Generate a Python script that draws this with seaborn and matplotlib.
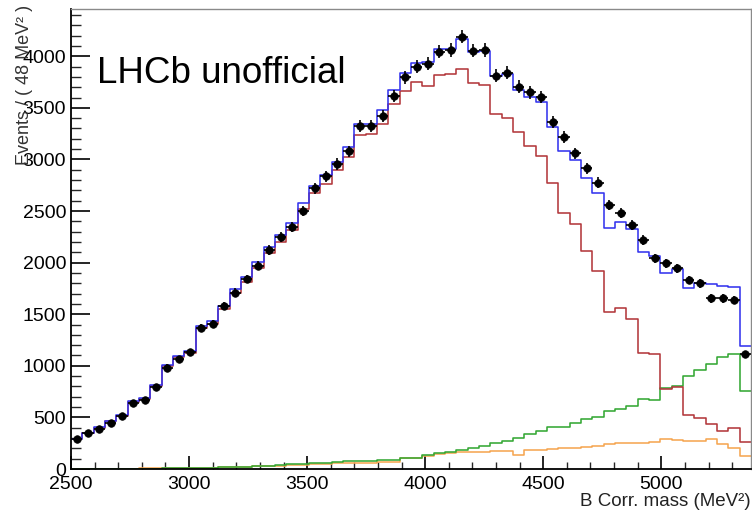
import numpy as np
import pandas as pd
import matplotlib
matplotlib.use("Agg")
import matplotlib.pyplot as plt
import seaborn as sns
from matplotlib.ticker import MultipleLocator

# ---------------- data ----------------
x_start = 2500      # MeV
bin_width = 48      # MeV

data_counts = [288, 346, 390, 449, 516, 640, 672, 797, 982, 1066,
               1131, 1369, 1402, 1579, 1708, 1841, 1970, 2122, 2250, 2350,
               2500, 2720, 2839, 2955, 3078, 3324, 3324, 3424, 3614, 3795,
               3898, 3928, 4044, 4060, 4189, 4052, 4060, 3810, 3842, 3705,
               3650, 3608, 3366, 3220, 3059, 2913, 2774, 2560, 2478, 2364,
               2219, 2042, 1993, 1945, 1831, 1799, 1654, 1654, 1638, 1114]

total_fit = [288, 352, 404, 468, 523, 659, 691, 814, 1008, 1095,
             1147, 1386, 1434, 1579, 1744, 1857, 2009, 2154, 2270, 2380,
             2575, 2740, 2849, 2972, 3124, 3343, 3343, 3479, 3672, 3840,
             3937, 3942, 4067, 4070, 4164, 4045, 4055, 3808, 3824, 3675,
             3605, 3559, 3311, 3081, 2994, 2817, 2671, 2340, 2396, 2322,
             2106, 2064, 1896, 1935, 1757, 1805, 1793, 1773, 1761, 1195]

red_component = [286, 350, 400, 463, 517, 652, 682, 804, 996, 1081,
                 1129, 1364, 1408, 1548, 1707, 1813, 1949, 2092, 2200, 2316,
                 2520, 2675, 2762, 2897, 3020, 3236, 3246, 3343, 3537, 3660,
                 3748, 3711, 3818, 3825, 3877, 3740, 3724, 3444, 3398, 3269,
                 3130, 3033, 2774, 2478, 2374, 2112, 1922, 1524, 1557, 1451,
                 1127, 1111, 773, 792, 523, 491, 433, 368, 394, 258]

green_component = [1, 1, 2, 2, 3, 3, 4, 4, 5, 6,
                   8, 10, 12, 15, 18, 22, 30, 32, 40, 45,
                   45, 55, 55, 65, 77, 77, 77, 87, 87, 110,
                   110, 136, 153, 165, 184, 200, 224, 249, 271, 297,
                   339, 372, 410, 410, 443, 481, 507, 562, 578, 610,
                   675, 669, 782, 808, 901, 959, 1015, 1089, 1111, 756]

orange_component = [1, 1, 2, 3, 3, 4, 5, 6, 7, 8,
                     10, 12, 14, 16, 19, 22, 26, 28, 32, 35,
                     40, 45, 50, 55, 55, 55, 55, 71, 71, 104,
                     104, 126, 150, 155, 160, 165, 168, 172, 178, 136,
                     184, 188, 190, 200, 207, 215, 226, 240, 249, 249,
                     256, 265, 291, 281, 271, 271, 288, 240, 200, 126]

x_label = "B Corr. mass (MeV²)"
y_label = "Events / ( 48 MeV² )"
watermark = "LHCb unofficial"

# ---------------- figure ----------------
sns.set_theme(style="white")
plt.rcParams['font.family'] = ['Liberation Sans', 'DejaVu Sans']

n_bins = len(data_counts)
x_end = x_start + bin_width * n_bins
centers = x_start + bin_width * (np.arange(n_bins) + 0.5)

df = pd.DataFrame({
    "mass": centers,
    "data": data_counts,
    "total": total_fit,
    "red": red_component,
    "green": green_component,
    "orange": orange_component,
})

fig = plt.figure(figsize=(7.52, 5.11), dpi=100)
ax = fig.add_axes([71 / 752, 1 - 469 / 511, 680 / 752, (469 - 9.3) / 511])

colors = {"orange": "#f5a653", "green": "#35a835", "red": "#b3383c", "total": "#3434ee"}
for col in ["orange", "green", "red", "total"]:
    sns.histplot(data=df, x="mass", weights=col, binwidth=bin_width,
                 binrange=(x_start, x_end), element="step",
                 fill=False, color=colors[col], linewidth=1.15, ax=ax)

ax.errorbar(df["mass"], df["data"], yerr=np.sqrt(df["data"]), xerr=bin_width / 2,
            fmt="none", ecolor="black", elinewidth=1.2, zorder=4)
sns.scatterplot(data=df, x="mass", y="data", color="black", s=30,
                edgecolor="black", linewidth=0.5, ax=ax, zorder=5)

ax.set_xlim(x_start, x_end)
ax.set_ylim(0, 4455)

ax.xaxis.set_major_locator(MultipleLocator(500))
ax.xaxis.set_minor_locator(MultipleLocator(100))
ax.yaxis.set_major_locator(MultipleLocator(500))
ax.yaxis.set_minor_locator(MultipleLocator(100))

ax.tick_params(axis="y", which="major", direction="in", length=14, width=1.2,
               labelsize=14, pad=3.5, colors="black", left=True, right=False)
ax.tick_params(axis="y", which="minor", direction="in", length=7, width=1.0,
               left=True, right=False)
ax.tick_params(axis="x", which="major", direction="in", length=9.5, width=1.2,
               labelsize=14, pad=5, colors="black", bottom=True, top=False)
ax.tick_params(axis="x", which="minor", direction="in", length=4.7, width=1.0,
               bottom=True, top=False)

for side in ["left", "bottom"]:
    ax.spines[side].set_color("black")
    ax.spines[side].set_linewidth(1.3)
for side in ["top", "right"]:
    ax.spines[side].set_color("#8a8a8a")
    ax.spines[side].set_linewidth(1.0)

ax.set_xlabel(x_label, fontsize=13.5, ha="right", va="top", color="#222222")
ax.xaxis.set_label_coords(1.0, -0.053)
ax.set_ylabel(y_label, fontsize=13, ha="right", va="center", color="#333333")
ax.yaxis.set_label_coords(-0.068, 1.01)

ax.text(0.038, 0.840, watermark, transform=ax.transAxes, fontsize=26.5,
        ha="left", va="baseline", color="black")

fig.savefig("out.png", dpi=100)
